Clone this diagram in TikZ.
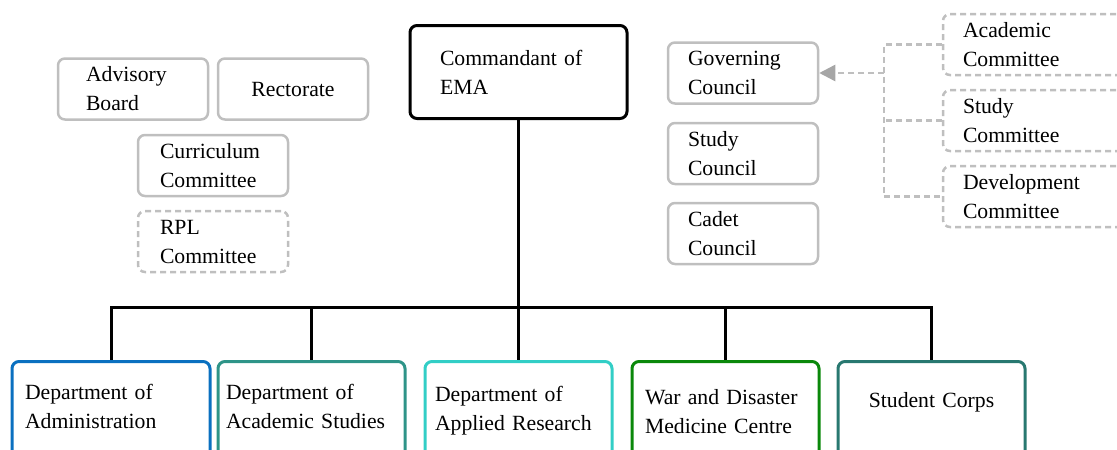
\documentclass[tikz,border=0pt]{standalone}
\usepackage{fontspec}
\setmainfont{Liberation Serif}
\usetikzlibrary{arrows.meta, positioning}
\definecolor{boxgrey}{RGB}{191,191,191}
\definecolor{tipgrey}{RGB}{166,166,166}
\definecolor{admblue}{RGB}{10,112,192}
\definecolor{acsteal}{RGB}{46,148,136}
\definecolor{aprcyan}{RGB}{50,206,198}
\definecolor{wdmgreen}{RGB}{10,136,10}
\definecolor{stuteal}{RGB}{40,120,112}
\tikzset{
  unit/.style={draw, rounded corners=7pt, line width=2.5pt, align=left, inner ysep=0pt,
    font=\fontsize{21.7}{29}\selectfont},
  greybox/.style={unit, draw=boxgrey, minimum width=150pt, minimum height=61pt},
  dashbox/.style={greybox, dash pattern=on 6pt off 4pt},
  dept/.style={unit, line width=3pt, anchor=north, minimum width=187pt, text depth=50pt},
  trunk/.style={line width=3pt},
  feed/.style={line width=2.5pt, draw=boxgrey, dash pattern=on 6pt off 4pt}
}
\begin{document}
\begin{tikzpicture}[x=1pt, y=-1pt]
                        \useasboundingbox (0,0) rectangle (1117,450);
                        \clip (0,0) rectangle (1117,450);
                        \node[unit, line width=3pt, minimum width=217pt, minimum height=93pt, inner xsep=30pt, text width=157pt] (cmd) at (518.5,72) {Commandant of\\EMA};
                        \node[greybox, inner xsep=28pt, text width=94pt] (adv) at (133,89) {Advisory\\Board};
                        \node[greybox, align=center, inner xsep=10pt, text width=130pt] (rec) at (293,89) {Rectorate};
                        \node[greybox, inner xsep=22pt, text width=106pt] (cur) at (213,165.5) {Curriculum\\Committee};
                        \node[dashbox, inner xsep=22pt, text width=106pt] (rpl) at (213,241.5) {RPL\\Committee};
                        \node[greybox, inner xsep=20pt, text width=110pt] (gov) at (743,73) {Governing\\Council};
                        \node[greybox, inner xsep=20pt, text width=110pt] (stc) at (743,153.5) {Study\\Council};
                        \node[greybox, inner xsep=20pt, text width=110pt] (cad) at (743,233.5) {Cadet\\Council};
                        \node[dashbox, minimum width=190pt, inner xsep=20pt, text width=150pt] (acm) at (1038,44.5) {Academic\\Committee};
                        \node[dashbox, minimum width=190pt, inner xsep=20pt, text width=150pt] (scm) at (1038,120.5) {Study\\Committee};
                        \node[dashbox, minimum width=190pt, inner xsep=20pt, text width=150pt] (dcm) at (1038,196.5) {Development\\Committee};
                        \node[dept, draw=admblue, minimum width=198pt, inner xsep=13pt, inner ysep=23pt, text width=172pt] (adm) at (111,360) {Department of\\Administration};
                        \node[dept, draw=acsteal, inner xsep=8pt, inner ysep=23pt, text width=171pt] (acs) at (311.5,360) {Department of\\Academic Studies};
                        \node[dept, draw=aprcyan, inner xsep=10pt, inner ysep=25pt, text width=167pt] (apr) at (518.5,360) {Department of\\Applied Research};
                        \node[dept, draw=wdmgreen, inner xsep=13pt, inner ysep=28pt, text width=161pt] (wdm) at (725.5,360) {War and Disaster\\Medicine Centre};
                        \node[dept, draw=stuteal, align=center, inner xsep=10pt, inner ysep=31pt, text width=167pt] (stu) at (931.5,360) {Student Corps};
                        \coordinate (bus) at (0,307);
                        \coordinate (spine) at (884,0);
                        \draw[trunk] (cmd.south) -- (cmd.south |- bus);
                        \draw[trunk, line cap=rect] (adm.north |- bus) -- (stu.north |- bus);
                        \draw[trunk]
                        (adm.north |- bus) edge (adm.north)
                        (acs.north |- bus) edge (acs.north)
                        (apr.north |- bus) edge (apr.north)
                        (wdm.north |- bus) edge (wdm.north)
                        (stu.north |- bus) edge (stu.north);
                        \draw[feed] (acm.west) -- (acm.west -| spine) -- (dcm.west -| spine) -- (dcm.west);
                        \draw[feed] (scm.west) -- (scm.west -| spine);
                        \draw[feed, -{Triangle[length=16pt, width=16pt, color=tipgrey]}] (gov.east -| spine) -- (gov.east);
                    \end{tikzpicture}
\end{document}
